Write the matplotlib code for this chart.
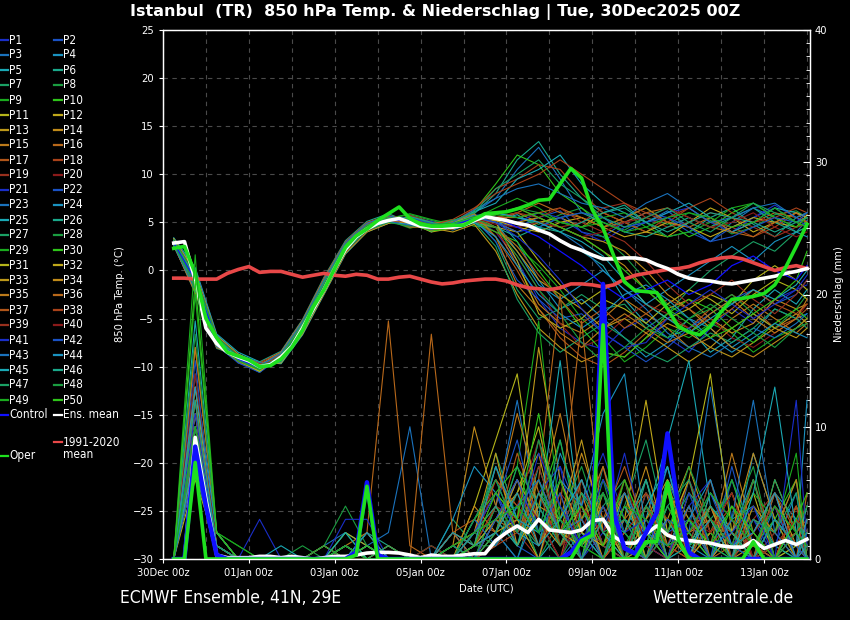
import numpy as np
import matplotlib
matplotlib.use("Agg")
import matplotlib.pyplot as plt
from matplotlib.lines import Line2D

# ---------- data (days since 30Dec2025 00z) ----------
t_main = np.arange(0.25, 15.01, 0.25)              # 6-hourly
t_memb = np.r_[np.arange(0.25, 15.0, 0.5), 15.0]   # 12-hourly

xtick_pos = [0, 2, 4, 6, 8, 10, 12, 14]
xtick_lbl = ["30Dec 00z", "01Jan 00z", "03Jan 00z", "05Jan 00z",
             "07Jan 00z", "09Jan 00z", "11Jan 00z", "13Jan 00z"]

temp_mean = [2.85, 3.0, -1.0, -6.0, -7.6, -8.5, -9.0, -9.4, -10.0, -9.8,
             -9.0, -7.9, -6.0, -4.0, -2.0, 0.2, 2.2, 3.5, 4.3, 4.9,
             5.2, 5.4, 5.0, 4.6, 4.5, 4.5, 4.5, 4.7, 5.2, 5.6,
             5.4, 5.2, 4.9, 4.7, 4.2, 3.8, 3.1, 2.5, 2.1, 1.6,
             1.2, 1.2, 1.3, 1.3, 1.1, 0.6, 0.2, -0.4, -0.8, -1.0,
             -1.1, -1.3, -1.4, -1.2, -1.0, -0.8, -0.6, -0.3, -0.1, 0.2]
temp_oper = [2.3, 2.5, -0.3, -5.0, -7.0, -8.5, -8.9, -9.3, -10.0, -9.9,
             -9.2, -8.0, -6.2, -3.8, -2.0, 0.2, 2.4, 3.6, 4.3, 5.2,
             5.9, 6.6, 5.4, 4.8, 4.6, 4.6, 4.7, 4.7, 5.3, 5.9,
             6.0, 6.1, 6.4, 6.8, 7.3, 7.4, 9.0, 10.6, 9.6, 6.3,
             4.4, 1.5, -1.2, -2.1, -2.2, -2.3, -4.0, -5.8, -6.4, -6.7,
             -5.8, -4.3, -3.0, -2.9, -2.7, -2.4, -1.5, 0.3, 2.5, 4.8]
temp_clim = [-0.8, -0.8, -0.9, -0.9, -0.9, -0.3, 0.1, 0.4, -0.2, -0.1,
             -0.1, -0.4, -0.7, -0.5, -0.3, -0.5, -0.6, -0.4, -0.5, -0.9,
             -0.9, -0.7, -0.6, -0.9, -1.2, -1.4, -1.3, -1.1, -1.0, -0.9,
             -0.9, -1.1, -1.5, -1.8, -1.9, -2.0, -1.8, -1.4, -1.4, -1.5,
             -1.7, -1.5, -0.9, -0.5, -0.3, -0.1, 0.1, 0.2, 0.4, 0.8,
             1.1, 1.3, 1.4, 1.2, 0.8, 0.4, 0.0, 0.3, 0.5, 0.2]
temp_ctrl = [2.9, -1.0, -7.3, -9.2, -10.1, -9.2, -6.1, -1.9, 2.3, 4.4, 5.2,
             5.2, 4.5, 4.7, 5.4, 5.5, 4.5, 3.5, 2.0, 0.5, -1.5, -3.0, -2.0,
             -1.0, -2.5, -1.5, 0.5, 1.5, 0.0, -1.0, 0.5]

prec_mean = [0, 0, 9.2, 4.5, 0.3, 0.1, 0.1, 0.1, 0.2, 0.2,
             0.1, 0.2, 0.1, 0.0, 0.1, 0.2, 0.2, 0.3, 0.45, 0.5,
             0.5, 0.45, 0.3, 0.1, 0.3, 0.2, 0.2, 0.3, 0.4, 0.4,
             1.4, 2.0, 2.5, 2.0, 3.0, 2.2, 2.1, 2.0, 2.2, 2.9,
             3.0, 1.7, 1.2, 1.2, 1.9, 2.5, 1.8, 1.5, 1.4, 1.3,
             1.2, 1.0, 0.9, 0.9, 1.4, 0.8, 1.1, 1.4, 1.1, 1.5]
prec_oper = [0, 0, 7.3, 0, 0, 0, 0, 0, 0, 0,
             0, 0, 0, 0, 0, 0, 0, 0.3, 5.5, 0,
             0, 0, 0, 0, 0, 0, 0, 0, 0, 0,
             0, 0, 0, 0, 0, 0, 0, 0, 1.4, 1.8,
             17.7, 0, 0, 0, 1.3, 1.3, 5.8, 1.5, 0, 0,
             0, 0, 0, 0, 1.3, 0, 0, 0, 0, 0]
prec_ctrl = [0, 0, 8.5, 4.0, 0.3, 0, 0, 0, 0, 0,
             0, 0, 0, 0, 0, 0, 0, 0.5, 5.8, 0.3,
             0, 0, 0, 0, 0, 0, 0, 0, 0, 0,
             0, 0, 0, 0, 0, 0, 0, 0.5, 1.5, 2.0,
             20.8, 3.5, 0.8, 0.4, 2.0, 3.5, 9.5, 4.0, 0.5, 0,
             0, 0, 0, 0, 0, 0, 0, 0, 0, 0]

# ensemble members P1..P50, 850 hPa temperature (°C), 12-hourly
temp_members = [
    [2.9, -1.2, -7.4, -9.1, -10.2, -9.2, -6.1, -1.9, 2.3, 4.4, 5.1, 4.8, 4.2, 4.6, 5.3, 4.0, 1.0, -3.0, -6.0, -7.5, -8.2, -6.0, -5.0, -7.0, -8.5, -6.0, -4.0, -5.5, -3.0, -2.0, -1.5],
    [3.2, -0.4, -7.0, -8.8, -9.7, -9.5, -6.5, -2.2, 2.0, 4.2, 5.0, 5.6, 4.9, 4.3, 5.8, 5.0, 4.5, 5.5, 6.2, 4.0, 3.5, 5.0, 6.0, 5.5, 4.0, 3.0, 4.5, 5.5, 6.5, 5.0, 4.5],
    [2.6, -1.8, -7.9, -9.4, -10.6, -8.7, -5.4, -0.9, 2.9, 4.9, 5.6, 5.2, 4.0, 5.1, 6.0, 7.5, 10.5, 12.8, 9.5, 6.0, 5.5, 4.0, 5.0, 6.2, 4.5, 3.0, 5.0, 6.5, 5.5, 4.0, 5.2],
    [3.0, -0.8, -7.2, -9.6, -10.3, -9.0, -5.8, -2.0, 2.2, 4.4, 5.5, 4.6, 4.8, 4.2, 5.0, 5.5, 3.0, -1.0, -4.0, -3.0, -5.0, -7.0, -9.0, -7.5, -5.0, -6.0, -8.0, -6.5, -4.0, -5.0, -4.5],
    [3.4, 0.3, -6.6, -8.5, -9.5, -9.7, -6.7, -2.5, 1.7, 4.0, 4.9, 5.5, 4.5, 4.9, 5.4, 5.2, 5.8, 4.5, 3.0, 2.0, 0.5, -3.0, -5.5, -7.0, -6.0, -8.5, -7.0, -4.0, -2.0, -3.5, -2.0],
    [2.7, -2.4, -8.1, -8.9, -9.5, -8.4, -5.1, -0.7, 3.1, 5.1, 5.9, 5.0, 4.6, 4.4, 5.9, 8.0, 11.5, 13.4, 10.0, 7.5, 6.0, 6.8, 5.0, 3.5, 4.0, 5.5, 6.5, 4.8, 3.5, 5.5, 6.0],
    [3.1, -1.0, -7.5, -9.3, -10.1, -9.1, -6.0, -1.7, 2.4, 4.5, 5.3, 5.1, 4.3, 4.7, 5.5, 3.0, -2.0, -5.0, -4.0, -2.5, -4.0, -3.5, -6.0, -4.5, -2.0, 0.0, 1.5, 3.0, 2.0, 4.0, 4.5],
    [2.8, -0.9, -7.1, -9.5, -10.4, -8.9, -5.7, -1.6, 2.6, 4.6, 5.4, 5.8, 5.2, 4.6, 5.1, 6.0, 5.5, 4.8, 5.8, 6.5, 5.0, 4.2, 5.5, 4.8, 6.0, 5.2, 3.8, 4.5, 5.8, 6.2, 5.5],
    [3.0, -0.6, -7.0, -9.0, -9.9, -9.4, -6.2, -2.1, 2.1, 4.3, 5.2, 4.4, 4.9, 5.3, 4.6, 4.5, 2.5, 0.5, -2.0, -5.0, -7.0, -9.5, -8.0, -6.0, -7.0, -5.5, -6.5, -8.5, -7.0, -6.0, -5.0],
    [2.5, -1.6, -7.7, -9.2, -10.5, -8.6, -5.3, -1.0, 2.7, 4.7, 5.5, 5.4, 4.5, 4.8, 6.2, 9.0, 12.0, 11.0, 8.0, 6.5, 4.5, 5.5, 6.5, 5.0, 3.5, 4.5, 6.0, 7.0, 5.5, 4.5, 5.0],
    [3.3, 0.0, -6.8, -8.7, -9.8, -9.6, -6.4, -2.3, 1.9, 4.1, 5.0, 4.9, 4.1, 4.5, 5.2, 5.0, 4.0, 1.0, -1.5, -3.5, -2.0, -1.0, -3.5, -5.0, -4.0, -2.5, -3.5, -1.0, 0.5, -1.0, -2.0],
    [2.9, -1.3, -7.6, -9.0, -10.0, -9.0, -5.9, -1.8, 2.4, 4.5, 5.3, 5.0, 4.0, 4.4, 5.0, 4.5, 4.0, 5.0, 5.5, 4.5, 6.0, 5.0, 4.0, 3.5, 5.0, 6.5, 5.5, 4.0, 5.0, 4.5, 5.8],
    [2.7, -2.0, -7.9, -9.3, -10.3, -8.9, -5.6, -1.3, 2.6, 4.6, 5.4, 4.7, 4.4, 4.0, 4.8, 2.0, -2.5, -6.0, -8.0, -9.5, -8.5, -9.0, -7.0, -5.5, -6.5, -8.0, -9.0, -7.5, -6.0, -4.5, -5.5],
    [3.1, -0.7, -7.3, -9.4, -10.1, -9.3, -6.3, -2.0, 2.1, 4.3, 5.1, 5.3, 4.7, 5.0, 5.6, 5.5, 6.0, 5.0, 4.5, 3.5, 2.0, 0.5, -2.0, -4.0, -3.0, -5.0, -6.5, -5.5, -3.0, -4.0, -3.5],
    [2.8, -1.4, -7.6, -9.1, -10.2, -9.1, -5.9, -1.6, 2.5, 4.6, 5.3, 4.5, 4.6, 4.8, 5.7, 4.5, 0.5, -3.5, -5.5, -6.5, -5.0, -3.0, -4.5, -6.0, -8.0, -7.0, -5.0, -3.5, -5.0, -6.5, -5.5],
    [3.2, -0.3, -6.9, -8.8, -9.7, -9.4, -6.5, -2.4, 1.8, 4.1, 4.9, 5.7, 5.0, 4.3, 5.6, 5.0, 6.0, 7.0, 6.0, 5.5, 4.5, 5.0, 6.0, 6.5, 5.5, 4.5, 4.0, 5.0, 6.0, 5.5, 5.0],
    [3.0, -1.1, -7.4, -9.5, -10.4, -9.0, -5.8, -1.8, 2.3, 4.4, 5.2, 4.8, 4.2, 4.7, 5.4, 3.5, 0.0, -4.0, -7.0, -9.0, -10.0, -8.5, -6.5, -5.0, -6.0, -4.0, -2.5, -4.0, -6.0, -5.0, -4.0],
    [2.6, -2.2, -8.0, -9.0, -9.6, -8.5, -5.2, -0.8, 3.0, 5.0, 5.7, 5.3, 4.8, 5.0, 6.4, 8.5, 9.5, 11.0, 10.5, 8.0, 6.0, 5.0, 4.0, 5.5, 6.5, 5.0, 4.5, 3.5, 4.5, 6.0, 5.5],
    [3.1, -0.5, -7.1, -9.2, -10.0, -9.4, -6.3, -2.1, 2.0, 4.3, 5.1, 5.1, 4.4, 4.9, 5.2, 5.8, 6.5, 5.5, 4.5, 5.0, 6.5, 7.0, 5.5, 4.5, 5.0, 6.0, 5.5, 4.5, 3.5, 4.5, 4.8],
    [2.9, -1.5, -7.7, -9.3, -10.1, -8.8, -5.6, -1.4, 2.6, 4.7, 5.4, 4.6, 4.5, 4.4, 5.1, 4.0, 1.5, -2.0, -5.5, -8.0, -7.0, -5.0, -3.5, -4.5, -6.0, -5.0, -7.0, -8.0, -6.5, -5.0, -3.5],
    [3.0, -0.8, -7.2, -9.0, -10.2, -9.2, -6.1, -1.9, 2.3, 4.4, 5.2, 5.5, 5.1, 4.4, 5.5, 5.5, 5.0, 6.0, 5.5, 4.0, 3.0, 4.5, 5.0, 6.0, 6.5, 5.0, 4.0, 5.5, 6.8, 5.5, 4.5],
    [2.7, -1.9, -7.8, -9.6, -10.6, -9.0, -5.7, -1.2, 2.8, 4.8, 5.6, 4.9, 4.3, 4.6, 5.3, 3.0, -1.0, -3.0, -5.0, -4.5, -6.5, -8.0, -9.5, -8.0, -6.0, -4.5, -3.0, -2.0, -3.5, -2.5, -1.0],
    [3.3, 0.1, -6.7, -8.7, -9.6, -9.5, -6.5, -2.3, 1.9, 4.1, 5.0, 5.4, 4.8, 5.2, 5.7, 6.0, 5.5, 5.0, 4.0, 2.5, 0.0, -2.0, -4.0, -6.5, -8.0, -9.0, -7.5, -6.0, -7.0, -5.5, -4.5],
    [2.8, -1.2, -7.5, -9.2, -10.3, -9.2, -6.0, -1.7, 2.4, 4.5, 5.3, 4.7, 4.7, 4.9, 5.8, 5.0, 2.0, -1.5, -3.0, -1.5, 0.0, -2.0, -3.5, -2.0, -0.5, 1.0, 2.5, 1.0, 3.0, 4.0, 3.5],
    [2.6, -2.1, -7.9, -9.1, -10.0, -8.6, -5.3, -1.0, 2.8, 4.8, 5.6, 5.0, 4.1, 4.9, 6.1, 7.0, 9.5, 10.5, 12.0, 9.0, 7.0, 6.0, 5.0, 6.0, 7.0, 5.5, 4.0, 5.0, 6.5, 6.0, 5.5],
    [3.2, -0.6, -7.0, -8.9, -9.8, -9.3, -6.2, -2.2, 2.0, 4.2, 5.0, 5.2, 4.6, 4.7, 4.9, 4.5, 3.5, 4.5, 5.5, 6.0, 5.0, 4.0, 3.5, 4.5, 5.5, 4.5, 5.5, 6.5, 5.0, 4.0, 4.5],
    [2.9, -1.0, -7.3, -9.4, -10.1, -9.1, -5.9, -1.8, 2.3, 4.4, 5.2, 4.5, 4.8, 4.5, 5.0, 2.5, -3.0, -6.5, -8.5, -7.0, -5.5, -7.0, -8.5, -9.5, -8.0, -6.5, -7.5, -6.0, -4.0, -5.0, -6.0],
    [3.0, -0.9, -7.2, -9.1, -10.0, -9.3, -6.2, -2.0, 2.2, 4.4, 5.2, 5.6, 4.9, 4.6, 5.3, 5.8, 6.5, 6.0, 5.0, 4.5, 3.5, 1.5, -1.0, -3.5, -5.0, -4.0, -2.5, -4.5, -6.0, -4.0, -2.5],
    [2.8, -1.3, -7.6, -9.3, -10.4, -9.0, -5.8, -1.5, 2.6, 4.6, 5.4, 5.9, 5.3, 4.8, 5.4, 6.5, 7.5, 6.5, 5.0, 4.5, 5.5, 6.0, 4.5, 3.5, 4.0, 5.0, 6.5, 7.0, 5.5, 4.5, 5.5],
    [3.1, -0.7, -7.1, -9.0, -9.9, -9.4, -6.3, -2.2, 2.0, 4.2, 5.0, 4.8, 4.1, 4.4, 5.0, 4.0, 3.0, 0.0, -3.0, -6.0, -8.5, -9.0, -7.0, -4.5, -3.0, -4.0, -6.0, -7.5, -5.5, -4.0, -5.0],
    [2.7, -1.7, -7.8, -9.4, -10.5, -8.8, -5.5, -1.2, 2.7, 4.7, 5.5, 4.6, 4.4, 5.0, 5.6, 5.0, 1.0, -4.5, -6.0, -5.0, -3.0, -4.0, -5.5, -3.5, -2.0, -3.0, -4.5, -2.5, -1.0, -2.0, -3.0],
    [3.3, -0.2, -6.8, -8.7, -9.7, -9.6, -6.6, -2.4, 1.8, 4.0, 4.9, 5.3, 4.7, 4.5, 5.2, 5.2, 4.5, 4.0, 5.0, 5.5, 4.5, 3.5, 4.0, 5.0, 4.5, 3.5, 4.5, 5.5, 5.0, 6.0, 5.5],
    [2.9, -1.4, -7.5, -9.2, -10.2, -9.0, -5.9, -1.7, 2.4, 4.5, 5.3, 4.9, 4.5, 4.3, 5.2, 4.5, 2.0, -1.0, -2.5, -4.0, -6.0, -5.0, -6.5, -8.0, -9.5, -8.0, -6.0, -4.5, -6.0, -7.0, -6.0],
    [3.0, -0.5, -7.0, -9.0, -10.0, -9.4, -6.3, -2.1, 2.1, 4.3, 5.1, 5.4, 4.4, 4.8, 5.5, 5.5, 5.0, 5.5, 4.5, 3.5, 3.0, 2.0, 0.0, -2.5, -4.0, -6.0, -8.0, -9.0, -7.5, -6.0, -5.0],
    [2.6, -2.3, -8.0, -9.0, -9.8, -8.5, -5.2, -0.9, 2.9, 4.9, 5.6, 4.7, 4.9, 5.1, 5.9, 3.5, -1.5, -4.0, -6.5, -8.0, -6.0, -4.5, -6.0, -7.5, -6.5, -4.5, -3.0, -5.0, -6.5, -5.0, -3.0],
    [3.1, -0.9, -7.3, -9.3, -10.2, -9.1, -6.0, -1.8, 2.3, 4.4, 5.2, 5.0, 4.2, 4.6, 5.3, 5.5, 5.5, 6.0, 6.5, 5.5, 4.5, 5.5, 6.5, 5.0, 4.5, 5.5, 4.0, 3.5, 5.0, 6.0, 5.0],
    [2.8, -1.1, -7.4, -9.4, -10.3, -9.1, -5.9, -1.7, 2.4, 4.5, 5.3, 4.5, 4.6, 4.7, 5.2, 4.5, 2.5, -0.5, -3.0, -5.5, -4.0, -6.0, -4.5, -3.0, -4.0, -5.5, -4.0, -2.0, -3.5, -4.5, -3.5],
    [2.7, -1.9, -7.8, -9.2, -10.1, -8.7, -5.4, -1.1, 2.8, 4.8, 5.6, 5.4, 4.7, 5.3, 6.5, 8.0, 9.0, 10.0, 11.5, 10.0, 8.5, 7.0, 6.0, 5.0, 6.5, 7.5, 6.0, 5.0, 5.5, 6.5, 6.0],
    [3.2, -0.4, -6.9, -8.8, -9.7, -9.4, -6.4, -2.3, 1.9, 4.1, 5.0, 5.7, 5.0, 4.5, 5.0, 5.5, 6.0, 5.5, 6.5, 5.0, 4.0, 3.0, 1.0, -1.5, -3.5, -2.5, -1.0, -3.0, -4.5, -2.5, -1.0],
    [2.9, -1.2, -7.5, -9.1, -10.1, -9.1, -6.0, -1.8, 2.4, 4.5, 5.3, 5.1, 4.5, 4.3, 5.4, 4.8, 4.5, 5.0, 4.5, 3.5, 4.0, 5.0, 5.5, 6.5, 5.5, 4.5, 5.0, 6.0, 4.5, 3.5, 4.0],
    [3.0, -0.8, -7.2, -9.2, -10.0, -9.2, -6.1, -1.9, 2.2, 4.4, 5.1, 4.7, 4.4, 4.8, 5.6, 5.0, 3.5, 1.5, -1.0, -4.0, -6.5, -8.0, -7.5, -5.0, -3.5, -2.0, -3.5, -5.0, -3.5, -2.0, -0.5],
    [2.8, -1.5, -7.6, -9.3, -10.3, -9.0, -5.8, -1.5, 2.5, 4.6, 5.4, 5.5, 4.9, 4.7, 5.5, 5.0, 4.0, 4.5, 5.5, 6.0, 5.5, 4.5, 5.0, 5.5, 4.5, 3.0, 3.5, 4.5, 5.5, 5.0, 6.0],
    [2.6, -2.0, -7.9, -9.0, -9.9, -8.6, -5.3, -1.0, 2.9, 4.9, 5.7, 5.1, 4.3, 5.0, 6.3, 7.5, 8.5, 9.0, 8.0, 7.0, 6.5, 5.5, 7.0, 8.0, 6.5, 5.0, 5.5, 6.5, 7.0, 5.5, 6.0],
    [3.1, -0.6, -7.0, -9.0, -10.0, -9.5, -6.4, -2.2, 2.0, 4.2, 5.0, 4.8, 4.3, 4.5, 5.0, 3.5, 0.5, -2.5, -4.5, -6.0, -4.5, -2.5, -1.5, -3.0, -5.0, -7.0, -8.5, -7.0, -5.5, -6.5, -7.0],
    [2.9, -1.1, -7.4, -9.2, -10.2, -9.1, -6.0, -1.8, 2.3, 4.4, 5.2, 5.3, 4.6, 4.9, 5.5, 6.0, 5.5, 5.0, 4.0, 3.0, 1.5, -1.0, -3.5, -5.0, -6.5, -5.0, -3.5, -2.0, -3.0, -1.5, 0.0],
    [3.0, -0.7, -7.1, -9.1, -10.0, -9.3, -6.2, -2.0, 2.2, 4.3, 5.1, 5.6, 5.0, 4.4, 5.2, 5.5, 5.0, 4.5, 4.0, 5.0, 6.0, 6.5, 5.0, 4.0, 5.0, 6.0, 5.5, 5.0, 4.0, 5.0, 5.5],
    [2.7, -1.8, -7.7, -9.2, -10.3, -8.8, -5.5, -1.2, 2.7, 4.7, 5.5, 5.2, 4.5, 5.2, 6.0, 8.5, 10.0, 11.5, 9.0, 7.5, 5.5, 4.5, 5.5, 6.5, 5.0, 4.0, 5.5, 7.0, 6.0, 5.0, 5.5],
    [3.2, -0.5, -6.9, -8.9, -9.8, -9.4, -6.3, -2.2, 2.0, 4.2, 5.0, 4.6, 4.7, 4.6, 5.4, 4.5, 1.5, -2.0, -4.5, -7.5, -9.5, -8.0, -6.0, -7.0, -5.0, -3.5, -5.0, -6.5, -8.0, -6.0, -5.5],
    [2.8, -1.3, -7.5, -9.4, -10.3, -9.0, -5.8, -1.6, 2.5, 4.6, 5.4, 5.2, 4.8, 4.9, 5.6, 5.8, 5.5, 6.0, 5.0, 4.5, 5.0, 4.0, 4.5, 5.5, 6.0, 5.5, 4.5, 5.0, 6.5, 5.0, 4.5],
    [3.0, -1.0, -7.3, -9.2, -10.1, -9.2, -6.1, -1.9, 2.3, 4.4, 5.2, 5.4, 4.6, 4.7, 5.5, 5.8, 6.5, 5.5, 4.5, 3.5, 2.0, 0.0, -2.0, -4.0, -5.5, -7.0, -6.0, -4.5, -3.0, -1.0, 2.0],
]

# ensemble members P1..P50, precipitation (mm), 12-hourly
prec_members = [
    [0, 9, 1, 0, 0, 0, 0, 0, 1, 0, 0, 0, 0, 0, 1, 3, 6, 2, 0, 4, 8, 3, 0, 5, 2, 0, 6, 1, 0, 3, 0],
    [0, 11, 0, 0, 0, 0, 0, 0, 0, 1, 0, 0, 0, 1, 2, 5, 1, 0, 7, 3, 0, 2, 6, 0, 1, 4, 0, 2, 5, 0, 1],
    [0, 8, 1, 0, 0, 0, 0, 1, 2, 1, 2, 10, 0, 0, 0, 4, 12, 3, 0, 2, 5, 0, 1, 7, 0, 3, 1, 0, 4, 2, 0],
    [0, 14, 2, 0, 0, 0, 0, 0, 0, 0, 0, 0, 1, 0, 3, 6, 2, 9, 4, 0, 3, 5, 1, 0, 6, 2, 0, 8, 3, 1, 12],
    [0, 7, 0, 0, 0, 0, 0, 0, 1, 0, 0, 0, 0, 2, 0, 1, 4, 0, 2, 6, 1, 0, 3, 9, 15, 4, 2, 0, 5, 3, 1],
    [0, 10, 1, 0, 0, 0, 0, 0, 0, 2, 1, 0, 0, 0, 1, 2, 0, 5, 3, 0, 7, 2, 0, 4, 1, 6, 0, 3, 1, 0, 2],
    [0, 12, 0, 0, 0, 0, 0, 1, 0, 0, 0, 0, 0, 3, 1, 8, 3, 1, 6, 2, 0, 4, 9, 2, 0, 3, 5, 0, 2, 6, 1],
    [0, 9, 1, 0, 0, 0, 1, 0, 0, 1, 0, 0, 0, 0, 2, 1, 5, 2, 0, 3, 6, 0, 2, 1, 4, 0, 3, 7, 0, 1, 0],
    [0, 20, 2, 1, 0, 0, 0, 0, 1, 0, 0, 0, 1, 0, 0, 2, 7, 18, 3, 1, 0, 6, 2, 0, 5, 1, 0, 4, 2, 8, 0],
    [0, 11, 0, 0, 0, 0, 0, 0, 0, 0, 1, 0, 0, 1, 0, 3, 1, 4, 9, 2, 1, 0, 5, 3, 0, 2, 6, 1, 0, 3, 2],
    [0, 6, 1, 0, 0, 0, 0, 0, 2, 1, 0, 0, 0, 0, 4, 9, 14, 3, 2, 0, 5, 1, 0, 6, 3, 0, 2, 5, 0, 1, 4],
    [0, 13, 1, 0, 0, 0, 0, 0, 0, 0, 0, 0, 0, 2, 1, 2, 5, 8, 1, 4, 0, 3, 12, 2, 0, 4, 1, 0, 6, 2, 0],
    [0, 8, 0, 0, 0, 0, 0, 1, 0, 0, 0, 0, 0, 0, 2, 5, 3, 16, 6, 2, 4, 0, 1, 3, 7, 2, 0, 1, 4, 0, 3],
    [0, 10, 1, 0, 0, 0, 0, 0, 0, 1, 0, 0, 0, 1, 10, 4, 1, 6, 2, 8, 3, 0, 4, 1, 0, 5, 2, 0, 3, 1, 0],
    [0, 16, 2, 0, 0, 0, 0, 0, 1, 0, 0, 0, 0, 0, 1, 7, 2, 4, 11, 3, 0, 2, 6, 0, 3, 1, 8, 2, 0, 4, 1],
    [0, 9, 0, 0, 0, 0, 0, 0, 0, 2, 18, 1, 0, 0, 0, 3, 6, 1, 4, 18, 2, 5, 0, 2, 6, 0, 1, 3, 2, 0, 5],
    [0, 7, 1, 0, 0, 0, 0, 0, 1, 0, 0, 0, 0, 2, 3, 2, 8, 3, 0, 6, 1, 4, 2, 0, 5, 3, 0, 6, 1, 2, 0],
    [0, 12, 0, 0, 0, 0, 0, 0, 0, 1, 0, 0, 0, 0, 0, 1, 3, 6, 2, 0, 4, 1, 3, 5, 0, 2, 4, 0, 1, 3, 0],
    [0, 9, 1, 0, 0, 0, 0, 0, 0, 0, 1, 0, 0, 1, 2, 4, 2, 0, 5, 3, 1, 6, 0, 2, 1, 4, 0, 3, 5, 0, 2],
    [0, 11, 1, 0, 0, 0, 0, 0, 1, 0, 0, 0, 1, 0, 1, 6, 4, 9, 1, 2, 7, 0, 3, 1, 6, 2, 5, 0, 2, 4, 1],
    [0, 8, 1, 0, 3, 0, 0, 0, 0, 1, 0, 0, 0, 0, 2, 3, 1, 5, 7, 0, 2, 8, 1, 0, 4, 6, 1, 3, 0, 2, 0],
    [0, 15, 0, 0, 0, 0, 0, 0, 1, 0, 0, 0, 0, 2, 0, 4, 9, 2, 3, 6, 1, 0, 5, 2, 3, 0, 7, 1, 4, 0, 2],
    [0, 7, 1, 0, 0, 0, 0, 0, 0, 1, 0, 0, 0, 0, 1, 2, 0, 4, 1, 3, 5, 2, 0, 6, 2, 13, 3, 0, 1, 5, 0],
    [0, 10, 0, 0, 0, 0, 0, 0, 0, 0, 0, 0, 0, 3, 7, 5, 2, 1, 8, 4, 0, 3, 2, 7, 1, 0, 2, 6, 0, 3, 1],
    [0, 18, 2, 0, 0, 1, 0, 0, 1, 0, 0, 0, 0, 0, 1, 2, 6, 3, 15, 2, 0, 4, 1, 3, 0, 5, 2, 0, 3, 1, 4],
    [0, 9, 1, 0, 0, 0, 0, 0, 0, 2, 0, 0, 0, 1, 0, 3, 1, 7, 2, 5, 3, 0, 6, 1, 2, 0, 3, 4, 1, 0, 2],
    [0, 12, 0, 0, 0, 0, 0, 0, 1, 0, 0, 0, 0, 0, 2, 7, 3, 2, 9, 1, 4, 6, 0, 2, 5, 3, 1, 0, 6, 2, 0],
    [0, 8, 1, 0, 0, 0, 0, 1, 4, 1, 0, 0, 0, 0, 1, 1, 4, 0, 3, 7, 2, 1, 4, 0, 3, 1, 6, 2, 0, 3, 1],
    [0, 23, 2, 1, 0, 0, 0, 0, 0, 0, 0, 0, 0, 1, 0, 4, 2, 6, 1, 3, 5, 2, 0, 4, 1, 2, 0, 5, 3, 0, 1],
    [0, 10, 1, 0, 0, 0, 0, 0, 2, 0, 0, 0, 0, 0, 3, 5, 7, 2, 4, 0, 6, 3, 1, 5, 2, 0, 4, 1, 3, 6, 0],
    [0, 7, 0, 0, 0, 0, 0, 0, 0, 1, 0, 0, 0, 2, 1, 3, 5, 10, 2, 1, 3, 0, 4, 2, 6, 14, 2, 0, 1, 3, 2],
    [0, 11, 1, 0, 0, 0, 0, 0, 1, 0, 1, 0, 0, 0, 0, 2, 3, 0, 6, 2, 1, 5, 0, 3, 1, 4, 0, 2, 5, 1, 0],
    [0, 13, 1, 0, 0, 0, 0, 0, 0, 0, 0, 0, 0, 1, 2, 8, 1, 4, 3, 9, 2, 0, 3, 6, 0, 2, 5, 1, 0, 4, 2],
    [0, 9, 0, 0, 0, 0, 0, 1, 0, 0, 0, 0, 0, 0, 4, 2, 6, 3, 1, 5, 0, 2, 7, 1, 4, 0, 2, 8, 3, 0, 1],
    [0, 16, 2, 0, 0, 0, 0, 0, 1, 2, 0, 0, 0, 0, 1, 4, 11, 5, 2, 3, 7, 1, 0, 5, 2, 3, 0, 4, 2, 6, 0],
    [0, 8, 1, 0, 0, 0, 0, 0, 0, 0, 0, 0, 17, 2, 0, 3, 2, 6, 20, 4, 1, 3, 5, 0, 2, 4, 1, 6, 0, 2, 3],
    [0, 10, 0, 0, 0, 0, 0, 0, 0, 1, 0, 0, 0, 0, 2, 6, 4, 1, 5, 0, 3, 7, 2, 0, 4, 1, 3, 0, 5, 2, 0],
    [0, 12, 1, 0, 0, 0, 0, 0, 0, 0, 0, 0, 0, 1, 0, 1, 2, 5, 1, 3, 0, 2, 4, 1, 0, 3, 2, 1, 0, 4, 1],
    [0, 9, 0, 0, 0, 0, 0, 0, 1, 0, 0, 0, 0, 0, 1, 4, 3, 7, 2, 6, 1, 0, 5, 3, 1, 6, 0, 2, 4, 1, 0],
    [0, 14, 1, 0, 0, 0, 0, 0, 0, 0, 0, 0, 0, 2, 1, 2, 5, 3, 0, 4, 2, 6, 1, 0, 3, 2, 5, 0, 1, 3, 2],
    [0, 11, 1, 0, 0, 0, 0, 0, 3, 3, 0, 0, 0, 0, 2, 5, 2, 8, 4, 1, 6, 2, 3, 0, 5, 1, 2, 4, 0, 12, 1],
    [0, 7, 0, 0, 0, 0, 0, 0, 0, 1, 0, 0, 0, 1, 0, 3, 6, 2, 5, 0, 4, 1, 0, 3, 2, 5, 1, 0, 3, 1, 0],
    [0, 10, 1, 0, 0, 0, 0, 0, 1, 0, 0, 0, 0, 0, 3, 1, 4, 6, 2, 3, 0, 5, 2, 1, 4, 0, 3, 12, 2, 0, 1],
    [0, 13, 2, 0, 0, 0, 0, 0, 0, 2, 0, 0, 0, 0, 1, 7, 3, 2, 6, 4, 11, 14, 2, 0, 3, 6, 1, 2, 5, 0, 3],
    [0, 8, 0, 0, 0, 0, 0, 0, 2, 0, 0, 0, 0, 2, 1, 2, 5, 1, 3, 6, 2, 0, 4, 7, 1, 3, 0, 5, 13, 2, 0],
    [0, 12, 1, 0, 0, 0, 0, 0, 0, 1, 0, 0, 0, 0, 2, 4, 1, 5, 2, 0, 3, 2, 6, 0, 1, 4, 2, 0, 3, 1, 2],
    [0, 9, 1, 0, 0, 0, 0, 0, 1, 0, 1, 0, 0, 1, 0, 2, 7, 4, 1, 5, 2, 3, 0, 4, 6, 1, 0, 3, 2, 5, 0],
    [0, 17, 2, 0, 0, 0, 0, 1, 0, 0, 0, 0, 0, 0, 3, 6, 2, 9, 3, 1, 5, 0, 4, 2, 7, 3, 1, 6, 0, 2, 4],
    [0, 10, 0, 0, 0, 0, 0, 0, 1, 0, 0, 0, 0, 1, 2, 3, 4, 2, 6, 1, 0, 4, 3, 1, 2, 5, 3, 1, 4, 2, 1],
    [0, 21, 2, 0, 0, 0, 0, 0, 0, 1, 0, 0, 0, 0, 1, 5, 3, 11, 2, 4, 1, 6, 2, 0, 3, 1, 4, 2, 0, 3, 5],
]

# colour cycle of the member lines (repeats every 20 members)
member_colors = ["#1a2ec8", "#1a52c4", "#1a72bc", "#1a92c0", "#1aa8b4",
                 "#1aa88a", "#1aa064", "#1a9c40", "#1aaa1e", "#2ec41a",
                 "#b4b41a", "#c0a81a", "#bc981a", "#c08a1a", "#bc7a1a",
                 "#b8681a", "#b0561a", "#a8421a", "#98301e", "#8a1a1a"]

C_CTRL = "#1010ff"
C_OPER = "#1ee01e"
C_MEAN = "#ffffff"
C_CLIM = "#e84848"
GRID = "#4a4a4a"
FONT = dict(family="DejaVu Sans", stretch="condensed")

# ---------- figure ----------
fig = plt.figure(figsize=(8.5, 6.2), dpi=100, facecolor="black")
ax = fig.add_axes([163 / 850, 61 / 620, 647 / 850, 529 / 620])
ax.set_facecolor("black")
ax2 = ax.twinx()

for k, row in enumerate(temp_members):
    ax.plot(t_memb, row, color=member_colors[k % 20], lw=0.8)
ax.plot(t_memb, temp_ctrl, color=C_CTRL, lw=0.9)
ax.plot(t_main, temp_clim, color=C_CLIM, lw=2.6)
ax.plot(t_main, temp_mean, color=C_MEAN, lw=2.6)
ax.plot(t_main, temp_oper, color=C_OPER, lw=2.6)

for k, row in enumerate(prec_members):
    ax2.plot(t_memb, row, color=member_colors[k % 20], lw=0.8)
ax2.plot(t_main, prec_mean, color=C_MEAN, lw=2.6)
ax2.plot(t_main, prec_ctrl, color=C_CTRL, lw=3.2)
ax2.plot(t_main, prec_oper, color=C_OPER, lw=2.6)

ax.set_xlim(0, 15.07)
ax.set_ylim(-30, 25)
ax2.set_ylim(0, 40)

ax.set_xticks(xtick_pos)
ax.set_xticklabels(xtick_lbl)
ax.set_xticks(np.arange(0, 16, 1), minor=True)
ax.set_yticks(np.arange(-30, 26, 5))
ax2.set_yticks(np.arange(0, 41, 10))
ax2.set_yticks(np.arange(0, 41, 1), minor=True)

ax.grid(True, which="both", axis="x", color=GRID, ls=(0, (4, 4)), lw=0.8)
ax.grid(True, which="major", axis="y", color=GRID, ls=(0, (4, 4)), lw=0.8)
ax.set_axisbelow(True)

for a in (ax, ax2):
    for s in a.spines.values():
        s.set_color("white")
        s.set_linewidth(0.9)
ax.tick_params(axis="both", which="both", colors="white", labelsize=8, length=3)
ax.tick_params(axis="x", which="minor", length=0)
ax2.tick_params(axis="y", which="major", colors="white", labelsize=8,
                direction="in", length=5)
ax2.tick_params(axis="y", which="minor", colors="white", direction="in", length=3)
for lbl in ax.get_xticklabels() + ax.get_yticklabels() + ax2.get_yticklabels():
    lbl.set_fontstretch("condensed")

ax.set_ylabel("850 hPa Temp. (°C)", color="white", fontsize=8, labelpad=6, **FONT)
ax2.set_ylabel("Niederschlag (mm)", color="white", fontsize=8, labelpad=5, **FONT)
ax.set_xlabel("Date (UTC)", color="white", fontsize=8, labelpad=4, **FONT)

fig.text(0.512, 1 - 12 / 620, "Istanbul  (TR)  850 hPa Temp. & Niederschlag | Tue, 30Dec2025 00Z",
         color="white", fontsize=11.5, fontweight="bold", ha="center", va="center")
fig.text(120 / 850, 1 - 598 / 620, "ECMWF Ensemble, 41N, 29E", color="white",
         fontsize=12.5, ha="left", va="center", **FONT)
fig.text(794 / 850, 1 - 598 / 620, "Wetterzentrale.de", color="white",
         fontsize=12.5, ha="right", va="center", **FONT)

# ---------- legend in the left margin ----------
def legend_item(x0, y, color, label, lw=1.6, va="center", dy=0):
    fig.add_artist(Line2D([x0 / 850, (x0 + 8) / 850], [1 - y / 620] * 2,
                          color=color, lw=lw, transform=fig.transFigure))
    fig.text((x0 + 9) / 850, 1 - (y + dy) / 620, label, color="white", fontsize=8.5,
             ha="left", va=va, linespacing=0.95, **FONT)

for k in range(50):
    col, row = k % 2, k // 2
    legend_item(0 if col == 0 else 54, 40 + 15 * row, member_colors[k % 20], f"P{k + 1}")
legend_item(0, 415, C_CTRL, "Control")
legend_item(54, 415, C_MEAN, "Ens. mean")
legend_item(54, 442, C_CLIM, "1991-2020\nmean", va="top", dy=-6)
legend_item(0, 456, C_OPER, "Oper")

fig.savefig("out.png", dpi=100, facecolor="black")
